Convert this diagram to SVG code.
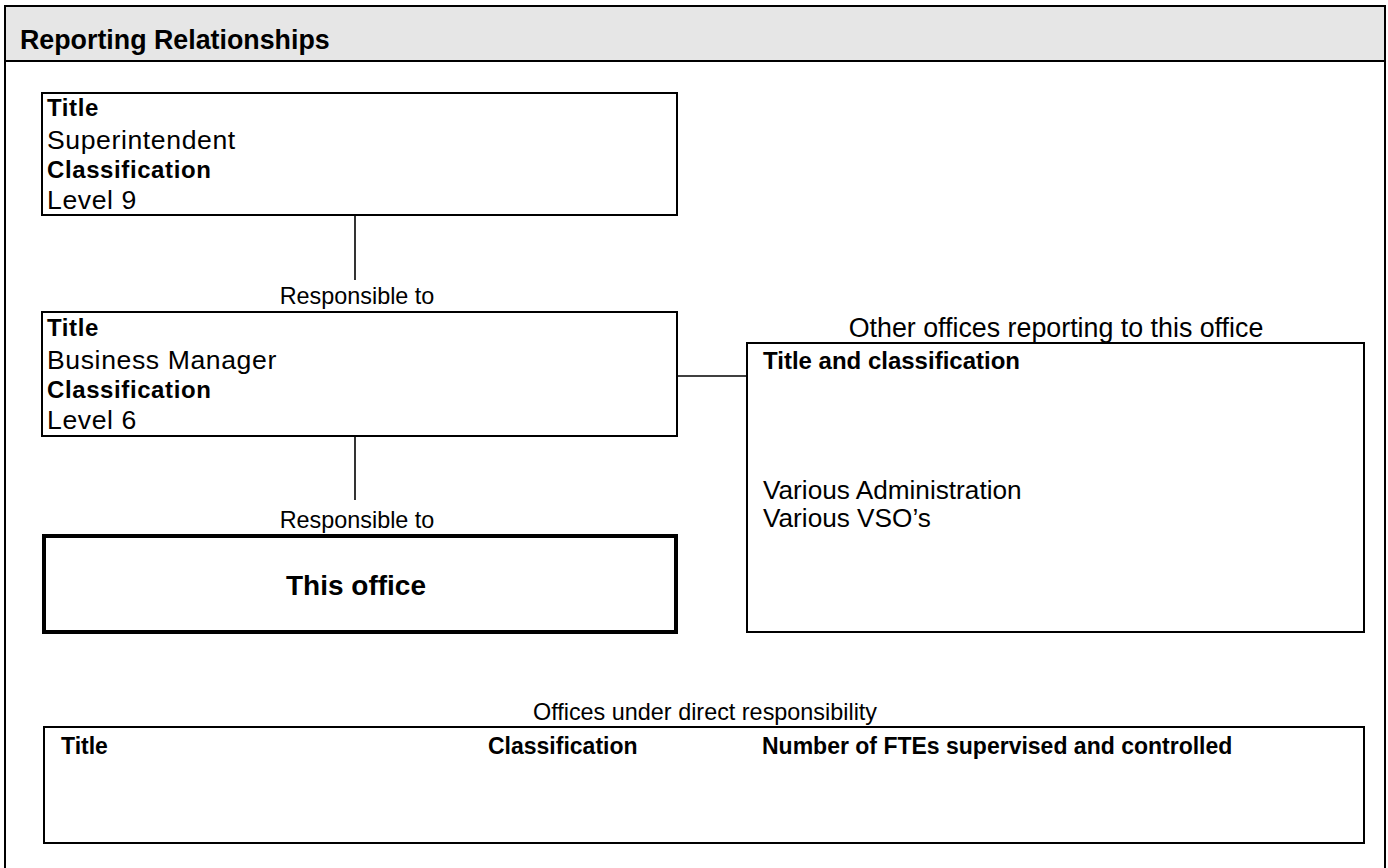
<svg xmlns="http://www.w3.org/2000/svg" width="1388" height="868" viewBox="0 0 1388 868">
<style>
text{font-family:"Liberation Sans",Arial,sans-serif;fill:#000}
.b{font-weight:bold}
.reg{font-size:26.6px}
.lab{font-size:24px;font-weight:bold}
.lab2{font-size:23px;font-weight:bold}
.cap{font-size:23.4px}
.sp{letter-spacing:0.6px}
.box{fill:#fff;stroke:#000;stroke-width:2}
.thick{fill:#fff;stroke:#000;stroke-width:4}
.conn{stroke:#000;stroke-width:1.6;fill:none}
</style>
<rect x="0" y="0" width="1388" height="868" fill="#fff"/>
<g id="frame">
<rect x="5" y="6" width="1380" height="880" fill="#fff" stroke="#000" stroke-width="2"/>
<rect x="5" y="6" width="1380" height="55" fill="#e6e6e6" stroke="#000" stroke-width="2"/>
<text x="20" y="49" class="b" font-size="26.8">Reporting Relationships</text>
</g>
<g id="connectors">
<line class="conn" x1="355" y1="215" x2="355" y2="280"/>
<line class="conn" x1="355" y1="436" x2="355" y2="500"/>
<line class="conn" x1="677" y1="376" x2="747" y2="376"/>
</g>
<g id="superintendent">
<rect class="box" x="42" y="93" width="635" height="122"/>
<text x="47" y="116" class="lab sp">Title</text>
<text x="47" y="149" class="reg sp">Superintendent</text>
<text x="47" y="178" class="lab sp">Classification</text>
<text x="47" y="209" class="reg sp">Level 9</text>
</g>
<text x="357" y="304" class="cap" text-anchor="middle">Responsible to</text>
<g id="business-manager">
<rect class="box" x="42" y="312" width="635" height="124"/>
<text x="47" y="336" class="lab sp">Title</text>
<text x="47" y="369" class="reg sp">Business Manager</text>
<text x="47" y="398" class="lab sp">Classification</text>
<text x="47" y="429" class="reg sp">Level 6</text>
</g>
<text x="357" y="528" class="cap" text-anchor="middle">Responsible to</text>
<g id="this-office">
<rect class="thick" x="44" y="536" width="632" height="96"/>
<text x="356" y="595" class="b" font-size="28" text-anchor="middle">This office</text>
</g>
<text x="1056" y="337" font-size="26.8" text-anchor="middle">Other offices reporting to this office</text>
<g id="other-offices">
<rect class="box" x="747" y="343" width="617" height="289"/>
<text x="763" y="369" class="lab">Title and classification</text>
<text x="763" y="499" font-size="26.2">Various Administration</text>
<text x="763" y="527" font-size="26.2">Various VSO’s</text>
</g>
<text x="705" y="720" class="cap" text-anchor="middle">Offices under direct responsibility</text>
<g id="direct-offices">
<rect class="box" x="44" y="727" width="1320" height="116"/>
<text x="61" y="754" class="lab2">Title</text>
<text x="488" y="754" class="lab2">Classification</text>
<text x="762" y="754" class="lab2">Number of FTEs supervised and controlled</text>
</g>
</svg>
